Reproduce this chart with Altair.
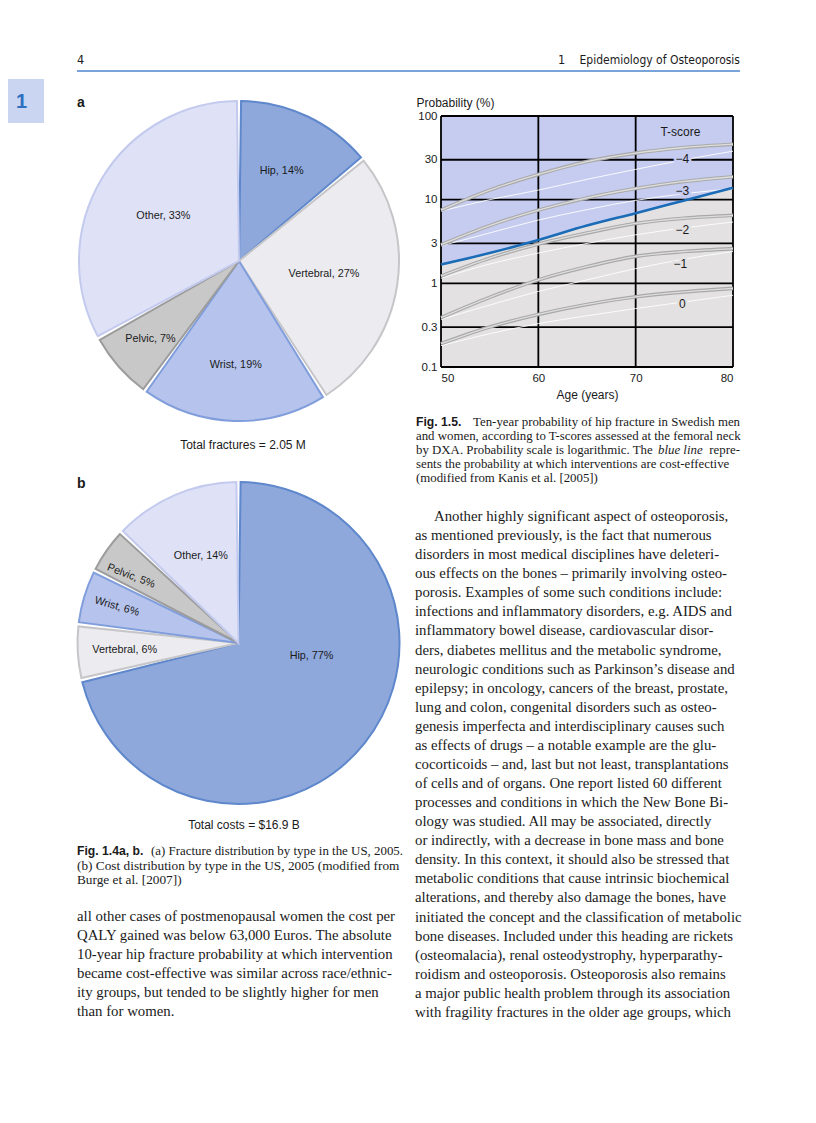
import altair as alt
import pandas as pd

# ---------------------------------------------------------------- data
pie_types = ["Hip", "Vertebral", "Wrist", "Pelvic", "Other"]
fracture_share = [14, 27, 19, 7, 33]      # % of 2.05 M fractures
cost_share = [77, 6, 6, 5, 14]            # % of $16.9 B costs

ages = [50, 55, 60, 65, 70, 75, 80]
t_scores = ["−4", "−3", "−2", "−1", "0"]
prob_t = [
    [7.5, 13.0, 20.0, 28.5, 36.0, 42.0, 46.0],
    [2.9, 4.9, 7.5, 10.5, 13.6, 16.5, 18.8],
    [1.22, 2.0, 2.95, 4.0, 5.2, 6.0, 6.5],
    [0.39, 0.68, 1.1, 1.58, 2.1, 2.4, 2.6],
    [0.19, 0.30, 0.425, 0.56, 0.69, 0.79, 0.87],
]
prob_t_thin = [
    [7.3, 10.0, 13.0, 17.5, 23.0, 30.0, 38.0],
    [2.8, 4.0, 5.7, 7.6, 9.8, 11.8, 13.5],
    [1.15, 1.7, 2.3, 3.0, 3.8, 4.6, 5.4],
    [0.37, 0.55, 0.8, 1.1, 1.5, 1.95, 2.4],
    [0.18, 0.25, 0.33, 0.41, 0.5, 0.6, 0.72],
]
prob_cost_effective = [1.68, 2.3, 3.3, 4.9, 6.9, 9.8, 13.9]

t_label_text = ["T-score", "−4", "−3", "−2", "−1", "0"]
t_label_age = [74.6, 74.8, 74.8, 74.8, 74.6, 74.8]
t_label_prob = [64, 31, 12.7, 4.3, 1.72, 0.56]

x_ticks = [50, 60, 70, 80]
y_ticks = [0.1, 0.3, 1, 3, 10, 30, 100]

caption_4_first = "(a) Fracture distribution by type in the US, 2005."
caption_4_rest = ["(b) Cost distribution by type in the US, 2005 (modified from",
                  "Burge et al. [2007])"]
caption_5_first = "Ten-year probability of hip fracture in Swedish men"
caption_5_rest = [
    "and women, according to T-scores assessed at the femoral neck",
    "by DXA. Probability scale is logarithmic. The",
    "sents the probability at which interventions are cost-effective",
    "(modified from Kanis et al. [2005])",
]
left_body = [
    "all other cases of postmenopausal women the cost per",
    "QALY gained was below 63,000 Euros. The absolute",
    "10-year hip fracture probability at which intervention",
    "became cost-effective was similar across race/ethnic-",
    "ity groups, but tended to be slightly higher for men",
    "than for women.",
]
right_body = [
    "Another highly significant aspect of osteoporosis,",
    "as mentioned previously, is the fact that numerous",
    "disorders in most medical disciplines have deleteri-",
    "ous effects on the bones – primarily involving osteo-",
    "porosis. Examples of some such conditions include:",
    "infections and inflammatory disorders, e.g. AIDS and",
    "inflammatory bowel disease, cardiovascular disor-",
    "ders, diabetes mellitus and the metabolic syndrome,",
    "neurologic conditions such as Parkinson’s disease and",
    "epilepsy; in oncology, cancers of the breast, prostate,",
    "lung and colon, congenital disorders such as osteo-",
    "genesis imperfecta and interdisciplinary causes such",
    "as effects of drugs – a notable example are the glu-",
    "cocorticoids – and, last but not least, transplantations",
    "of cells and of organs. One report listed 60 different",
    "processes and conditions in which the New Bone Bi-",
    "ology was studied. All may be associated, directly",
    "or indirectly, with a decrease in bone mass and bone",
    "density. In this context, it should also be stressed that",
    "metabolic conditions that cause intrinsic biochemical",
    "alterations, and thereby also damage the bones, have",
    "initiated the concept and the classification of metabolic",
    "bone diseases. Included under this heading are rickets",
    "(osteomalacia), renal osteodystrophy, hyperparathy-",
    "roidism and osteoporosis. Osteoporosis also remains",
    "a major public health problem through its association",
    "with fragility fractures in the older age groups, which",
]

# ---------------------------------------------------------------- styles
SANS = "Liberation Sans, Arial, Helvetica, sans-serif"
SERIF = "Liberation Serif, Times New Roman, serif"
NARROW = "Liberation Sans Narrow, DejaVu Sans Condensed, Liberation Sans, sans-serif"
INK = "#1a1a1a"
PIE_FILL = ["#8ea8dc", "#ececf0", "#b6c4ed", "#c8c8c8", "#dfe2f7"]
PIE_EDGE = ["#5e87cc", "#c6c6c9", "#809ddc", "#9c9c9c", "#c3caee"]
BLUE_BG = "#c5ccf0"
GRAY_BG = "#e3e1e2"
BODY = 14.8
CAP_L = 13.3
CAP_R = 12.85
FIG = 12.2

# plot area of the probability chart, in page pixels
PX0, PY0, PW, PH = 441, 116, 292, 251


def vx(x):
    return alt.value(x - PX0)


def vy(y):
    return alt.value(y - PY0)


def one(text):
    return pd.DataFrame({"t": [text]})


def label(text, x, y, size=12, font=SANS, align="left", weight="normal",
          color=INK, style="normal", angle=0):
    return alt.Chart(one(text)).mark_text(
        align=align, baseline="middle", font=font, fontSize=size,
        fontWeight=weight, fontStyle=style, color=color, angle=angle
    ).encode(x=vx(x), y=vy(y), text="t:N")


def text_block(lines, x, y_first, spacing, size, font=SERIF, align="left"):
    n = len(lines)
    df = pd.DataFrame({"row": list(range(n)), "txt": lines})
    sc = alt.Scale(domain=[0, max(n - 1, 1)],
                   range=[y_first - PY0, y_first - PY0 + spacing * max(n - 1, 1)],
                   nice=False, zero=False)
    return alt.Chart(df).mark_text(
        align=align, baseline="middle", font=font, fontSize=size, color=INK
    ).encode(x=vx(x), y=alt.Y("row:Q", scale=sc, axis=None), text="txt:N")


# ---------------------------------------------------------------- probability chart
xs = alt.Scale(domain=[50, 80], nice=False, zero=False)
ys = alt.Scale(type="log", domain=[0.1, 100], nice=False)
x_axis = alt.Axis(values=x_ticks, title="Age (years)", ticks=False, domain=False,
                  grid=False, labelFont=SANS, labelFontSize=11.5, labelColor=INK,
                  labelPadding=5, titleFont=SANS, titleFontSize=12,
                  titleFontWeight="normal", titleColor=INK, titlePadding=6)
y_axis = alt.Axis(values=y_ticks, format="~g", title="Probability (%)", ticks=False,
                  domain=False, grid=False, labelFont=SANS, labelFontSize=11.5,
                  labelColor=INK, labelPadding=4, titleFont=SANS, titleFontSize=12,
                  titleFontWeight="normal", titleColor=INK, titleAngle=0,
                  titleAlign="left", titleBaseline="middle", titleX=-25, titleY=-14)

ce = pd.DataFrame({"age": ages, "p": prob_cost_effective})
X = alt.X("age:Q", scale=xs, axis=x_axis)
Y = alt.Y("p:Q", scale=ys, axis=y_axis)

gray_area = alt.Chart(ce).mark_area(color=GRAY_BG, interpolate="monotone").encode(
    x=X, y=Y, y2=alt.datum(0.1))
blue_area = alt.Chart(ce).mark_area(color=BLUE_BG, interpolate="monotone").encode(
    x=X, y=Y, y2=alt.datum(100))

grid_x = alt.Chart(pd.DataFrame({"age": x_ticks})).mark_rule(
    color="black", strokeWidth=1.8).encode(x=X, y=alt.datum(0.1), y2=alt.datum(100))
grid_y = alt.Chart(pd.DataFrame({"p": y_ticks})).mark_rule(
    color="black", strokeWidth=1.8).encode(y=Y, x=alt.datum(50), x2=alt.datum(80))

rows = []
for t, thick, thin in zip(t_scores, prob_t, prob_t_thin):
    for a, p, q in zip(ages, thick, thin):
        rows.append({"t": t, "age": a, "p": p, "q": q})
curves = pd.DataFrame(rows)
Q = alt.Y("q:Q", scale=ys, axis=y_axis)

thin_lines = alt.Chart(curves).mark_line(
    color="white", strokeWidth=0.9, interpolate="monotone").encode(x=X, y=Q, detail="t:N")
t_outer = alt.Chart(curves).mark_line(
    color="#a9a9a9", strokeWidth=3.6, interpolate="monotone").encode(x=X, y=Y, detail="t:N")
t_inner = alt.Chart(curves).mark_line(
    color="#dedede", strokeWidth=1.3, interpolate="monotone").encode(x=X, y=Y, detail="t:N")
ce_line = alt.Chart(ce).mark_line(
    color="#1b6cb6", strokeWidth=2.6, interpolate="monotone").encode(x=X, y=Y)

labs = pd.DataFrame({"lab": t_label_text, "age": t_label_age, "p": t_label_prob})
on_blue = alt.FieldOneOfPredicate(field="lab", oneOf=["T-score", "−4", "−3"])
halo = alt.Chart(labs).mark_text(
    font=SANS, fontSize=12, strokeWidth=5, baseline="middle").encode(
    x=X, y=Y, text="lab:N",
    stroke=alt.condition(on_blue, alt.value(BLUE_BG), alt.value(GRAY_BG)),
    color=alt.condition(on_blue, alt.value(BLUE_BG), alt.value(GRAY_BG)))
t_labels = alt.Chart(labs).mark_text(
    font=SANS, fontSize=12, color=INK, baseline="middle").encode(x=X, y=Y, text="lab:N")

prob_chart = alt.layer(gray_area, blue_area, grid_x, grid_y, thin_lines, t_outer,
                       t_inner, ce_line, halo, t_labels)


# ---------------------------------------------------------------- pies
def pie(values, cx, cy, r):
    df = pd.DataFrame({"type": pie_types, "share": values, "order": list(range(5))})
    return alt.Chart(df).mark_arc(radius=r, padAngle=0.026, strokeWidth=2).encode(
        theta=alt.Theta("share:Q", stack=True),
        order=alt.Order("order:Q"),
        color=alt.Color("type:N", scale=alt.Scale(domain=pie_types, range=PIE_FILL),
                        legend=None),
        stroke=alt.Stroke("type:N", scale=alt.Scale(domain=pie_types, range=PIE_EDGE),
                          legend=None),
        x=vx(cx), y=vy(cy))


def pie_label(values, cx, cy, which, radius, dx=0, dy=0, angle=0):
    df = pd.DataFrame({"type": pie_types, "share": values, "order": list(range(5))})
    return alt.Chart(df).transform_joinaggregate(
        total="sum(share)"
    ).transform_window(
        cum="sum(share)", sort=[alt.SortField("order")]
    ).transform_calculate(
        mid="(datum.cum - datum.share / 2) / datum.total * 2 * PI",
        lab="datum.type + ', ' + datum.share + '%'"
    ).transform_filter(
        alt.datum.type == which
    ).mark_text(
        radius=radius, dx=dx, dy=dy, angle=angle, font=SANS, fontSize=10.8,
        color=INK, baseline="middle", align="center"
    ).encode(theta=alt.Theta("mid:Q", scale=None, stack=False),
             x=vx(cx), y=vy(cy), text="lab:N")


A_CX, A_CY, A_R = 239, 261, 160
B_CX, B_CY, B_R = 238.5, 643, 161

pie_a = pie(fracture_share, A_CX, A_CY, A_R)
pie_b = pie(cost_share, B_CX, B_CY, B_R)
labels_a = [
    pie_label(fracture_share, A_CX, A_CY, "Hip", 100),
    pie_label(fracture_share, A_CX, A_CY, "Vertebral", 86),
    pie_label(fracture_share, A_CX, A_CY, "Wrist", 104),
    pie_label(fracture_share, A_CX, A_CY, "Pelvic", 118),
    pie_label(fracture_share, A_CX, A_CY, "Other", 88),
]
labels_b = [
    pie_label(cost_share, B_CX, B_CY, "Hip", 74, dx=15, dy=-33),
    pie_label(cost_share, B_CX, B_CY, "Vertebral", 114),
    pie_label(cost_share, B_CX, B_CY, "Wrist", 127, angle=16),
    pie_label(cost_share, B_CX, B_CY, "Pelvic", 124, dx=-4, dy=6, angle=21),
    pie_label(cost_share, B_CX, B_CY, "Other", 95),
]

# ---------------------------------------------------------------- page furniture
anchor = alt.Chart(one("")).mark_rect(color="white").encode(
    x=vx(8), x2=vx(10), y=vy(8), y2=vy(10))
tab = alt.Chart(one("")).mark_rect(color="#c9d5f1").encode(
    x=vx(8), x2=vx(44), y=vy(79), y2=vy(123))
head_rule = alt.Chart(one("")).mark_rule(color="#4b86cc", strokeWidth=1.6).encode(
    x=vx(77), x2=vx(740), y=vy(71))

furniture = [
    anchor, tab, head_rule,
    label("1", 21.5, 102, size=20, weight="bold", color="#2f6fc2", align="center"),
    label("4", 77, 60, size=12.5, font=NARROW),
    label("1", 558, 60, size=12.5, font=NARROW),
    label("Epidemiology of Osteoporosis", 740, 60, size=12, font=NARROW, align="right"),
    label("a", 77, 103, size=14, weight="bold"),
    label("b", 77, 484, size=14, weight="bold"),
    label("Total fractures = 2.05 M", 243, 445, size=12, align="center"),
    label("Total costs = $16.9 B", 244, 825, size=12, align="center"),
    # caption Fig. 1.4
    label("Fig. 1.4a, b.", 77, 851, size=FIG, weight="bold"),
    label(caption_4_first, 403, 851, size=12.9, font=SERIF, align="right"),
    text_block(caption_4_rest, 77, 865.7, 14.5, CAP_L),
    # caption Fig. 1.5
    label("Fig. 1.5.", 416, 421.5, size=FIG, weight="bold"),
    label(caption_5_first, 740, 421.5, size=CAP_R, font=SERIF, align="right"),
    text_block(caption_5_rest, 416, 435.5, 14, CAP_R),
    label("blue line", 658, 449.5, size=CAP_R, font=SERIF, style="italic"),
    label("repre-", 740, 449.5, size=CAP_R, font=SERIF, align="right"),
    # body text
    text_block(left_body, 77, 917.3, 18.9, BODY),
    text_block(right_body[:1], 434, 517, 19, BODY),
    text_block(right_body[1:], 415, 536.1, 19.07, BODY),
]

chart = alt.layer(
    prob_chart, pie_a, pie_b, *labels_a, *labels_b, *furniture
).resolve_scale(
    x="independent", y="independent", theta="independent"
).properties(
    width=PW, height=PH, padding=0, background="white"
).configure_view(strokeWidth=0)

chart.save("out.html", embed_options={"renderer": "svg", "actions": False})
